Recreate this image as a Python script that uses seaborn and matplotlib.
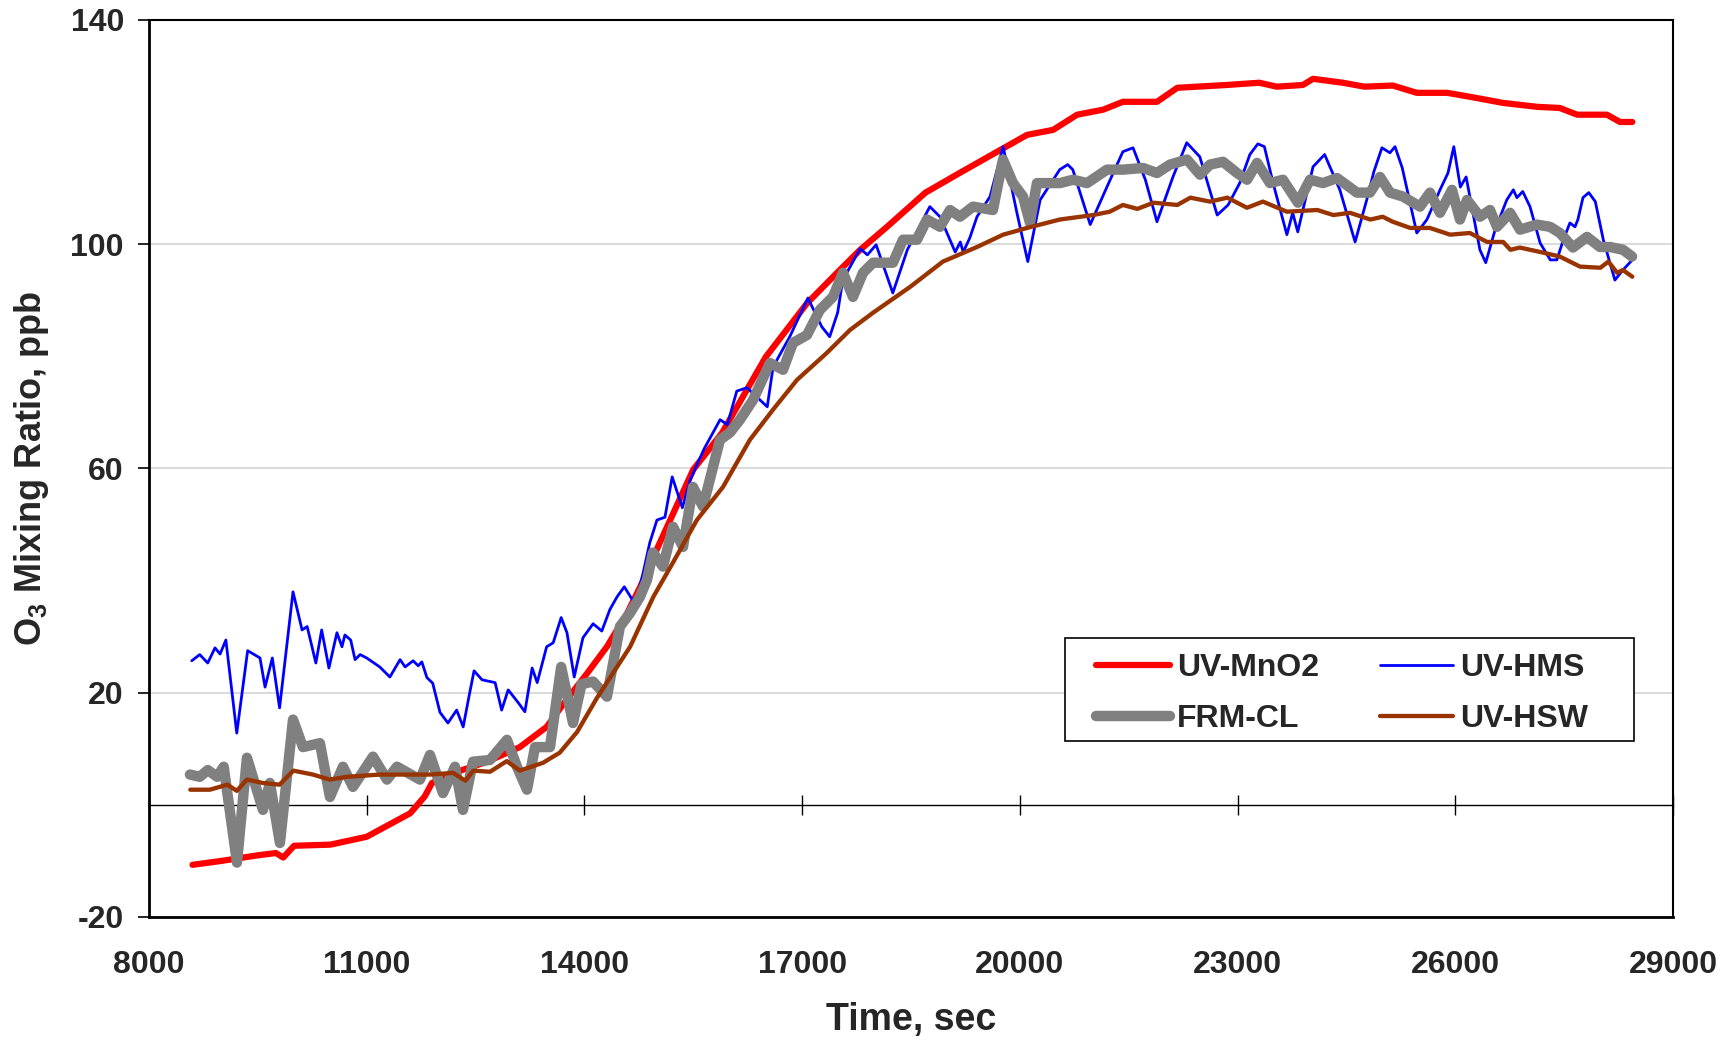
import matplotlib
matplotlib.use("Agg")
import matplotlib.pyplot as plt
from matplotlib.patches import Rectangle
import seaborn as sns
import pandas as pd

# ---------------- data ----------------
XTICKS = [8000, 11000, 14000, 17000, 20000, 23000, 26000, 29000]
YTICKS = [-20, 20, 60, 100, 140]

UV_MNO2 = [(8600, -10.7), (9000, -10.0), (9500, -9.0), (9750, -8.6), (9850, -9.4), (10000, -7.3),
           (10500, -7.1), (11000, -5.7), (11300, -3.6), (11600, -1.5), (11800, 1.5), (11900, 3.9),
           (12200, 5.7), (12660, 7.7), (13110, 10.3), (13480, 13.9), (13700, 17.8), (14040, 23.5),
           (14310, 28.2), (14590, 34.2), (14770, 38.9), (14950, 44.2), (15140, 49.6), (15500, 59.8),
           (15900, 66.4), (16500, 79.9), (17070, 89.5), (17520, 95.4), (17800, 99.0), (18170, 103.1),
           (18700, 109.2), (19170, 112.7), (19730, 116.8), (20100, 119.5), (20460, 120.4),
           (20790, 123.1), (21150, 124.0), (21420, 125.4), (21890, 125.4), (22170, 127.9),
           (22850, 128.4), (23300, 128.8), (23540, 128.1), (23900, 128.4), (24040, 129.5),
           (24450, 128.8), (24750, 128.1), (25140, 128.3), (25470, 127.0), (25890, 127.0),
           (26200, 126.3), (26660, 125.2), (27130, 124.5), (27440, 124.3), (27680, 123.1),
           (28090, 123.1), (28270, 121.8), (28440, 121.8)]

UV_HMS = [(8590, 25.7), (8700, 26.8), (8810, 25.3), (8910, 28.0), (8980, 26.9), (9060, 29.4),
          (9210, 12.8), (9360, 27.5), (9530, 26.2), (9600, 21.0), (9700, 26.2), (9800, 17.3),
          (9985, 38.0), (10110, 31.2), (10180, 31.8), (10300, 25.3), (10380, 31.2), (10480, 24.4),
          (10590, 30.7), (10660, 28.2), (10700, 30.3), (10780, 29.4), (10840, 25.9), (10910, 26.8),
          (11000, 26.2), (11180, 24.6), (11320, 22.8), (11460, 25.9), (11530, 24.6), (11640, 25.7),
          (11710, 24.8), (11760, 25.5), (11830, 22.7), (11910, 21.7), (12010, 16.5), (12120, 14.6),
          (12240, 16.9), (12330, 13.9), (12420, 20.0), (12480, 23.9), (12590, 22.3), (12770, 21.8),
          (12860, 16.9), (12950, 20.5), (13090, 18.2), (13180, 16.6), (13280, 24.4), (13350, 21.8),
          (13480, 28.2), (13570, 28.9), (13680, 33.4), (13760, 30.7), (13860, 22.8), (13980, 29.8),
          (14120, 32.3), (14240, 31.0), (14350, 34.8), (14450, 37.1), (14550, 38.9), (14660, 36.6),
          (14730, 37.1), (14810, 41.4), (14900, 46.7), (15000, 50.8), (15110, 51.3), (15210, 58.5),
          (15350, 53.0), (15460, 58.0), (15650, 63.5), (15870, 68.7), (15970, 67.8), (16100, 73.8),
          (16240, 74.4), (16520, 71.0), (16600, 78.1), (16830, 83.5), (17080, 90.4), (17270, 85.3),
          (17380, 83.5), (17490, 87.8), (17560, 93.6), (17800, 99.2), (17900, 98.1), (18020, 99.9),
          (18140, 95.4), (18250, 91.3), (18450, 99.0), (18760, 106.7), (18900, 104.9),
          (19110, 98.6), (19180, 100.4), (19220, 98.6), (19310, 101.1), (19410, 104.9),
          (19590, 108.5), (19770, 117.4), (19960, 105.6), (20110, 96.9), (20280, 107.9),
          (20550, 113.3), (20660, 114.2), (20730, 113.3), (20970, 103.5), (21200, 110.2),
          (21420, 116.5), (21560, 117.2), (21730, 111.5), (21890, 104.0), (22110, 112.0),
          (22300, 118.1), (22480, 115.6), (22720, 105.2), (22870, 107.0), (23030, 110.9),
          (23170, 116.0), (23280, 117.9), (23370, 117.4), (23490, 110.9), (23680, 101.7),
          (23760, 105.6), (23830, 102.2), (24040, 113.8), (24200, 116.0), (24410, 109.7),
          (24620, 100.4), (24780, 107.9), (24880, 113.0), (24990, 117.2), (25100, 116.3),
          (25170, 117.4), (25270, 113.6), (25470, 102.0), (25610, 104.4), (25790, 109.7),
          (25900, 112.7), (25980, 117.4), (26070, 110.2), (26150, 112.0), (26340, 99.0),
          (26420, 96.7), (26550, 102.6), (26710, 107.9), (26800, 109.7), (26850, 108.3),
          (26930, 109.4), (27030, 106.7), (27170, 100.2), (27310, 97.2), (27400, 97.2),
          (27490, 100.8), (27580, 103.8), (27650, 103.1), (27690, 104.4), (27760, 108.3),
          (27840, 109.2), (27930, 107.6), (28040, 100.8), (28200, 93.6), (28310, 95.4),
          (28440, 97.2)]

FRM_CL = [(8565, 5.4), (8700, 5.0), (8810, 6.2), (8940, 5.0), (9030, 6.8), (9213, -10.3),
          (9350, 8.4), (9571, -0.9), (9667, 3.9), (9805, -6.8), (9985, 15.2), (10122, 10.3),
          (10356, 11.0), (10494, 1.4), (10673, 6.8), (10811, 3.2), (11087, 8.6), (11280, 4.5),
          (11418, 6.8), (11734, 4.5), (11872, 8.9), (12051, 2.1), (12217, 6.8), (12327, -0.9),
          (12465, 7.7), (12699, 8.0), (12933, 11.6), (13071, 6.8), (13209, 2.7), (13319, 10.3),
          (13526, 10.3), (13680, 24.6), (13843, 14.6), (13960, 21.5), (14118, 22.0), (14311, 19.3),
          (14490, 31.8), (14628, 34.2), (14766, 37.1), (14862, 40.1), (14945, 45.0), (15083, 42.5),
          (15221, 49.6), (15359, 46.0), (15496, 56.7), (15634, 53.2), (15868, 65.1), (16006, 66.4),
          (16144, 68.7), (16323, 72.2), (16557, 78.8), (16737, 77.6), (16874, 82.4), (17067, 83.8),
          (17246, 88.3), (17425, 90.6), (17563, 94.9), (17701, 90.6), (17839, 94.9), (17977, 96.7),
          (18252, 96.7), (18390, 100.8), (18583, 100.8), (18721, 104.4), (18900, 103.1),
          (19038, 106.1), (19175, 104.9), (19355, 106.7), (19630, 106.1), (19768, 115.1),
          (19906, 110.9), (20044, 108.5), (20140, 103.8), (20236, 110.9), (20553, 110.9),
          (20733, 111.5), (20926, 110.9), (21201, 113.3), (21422, 113.3), (21697, 113.6),
          (21890, 112.7), (22069, 114.2), (22304, 115.1), (22483, 112.4), (22621, 114.2),
          (22800, 114.7), (22993, 112.7), (23131, 111.5), (23269, 114.5), (23447, 110.9),
          (23626, 111.5), (23833, 107.4), (23999, 111.5), (24178, 110.9), (24371, 111.8),
          (24646, 109.2), (24825, 109.2), (24963, 112.0), (25101, 109.2), (25280, 108.5),
          (25514, 106.7), (25652, 109.2), (25790, 105.6), (25955, 109.7), (26065, 104.4),
          (26162, 107.9), (26341, 104.9), (26479, 106.1), (26575, 103.1), (26755, 105.6),
          (26893, 102.6), (27127, 103.5), (27306, 103.1), (27443, 102.0), (27622, 99.4),
          (27815, 101.3), (27995, 99.5), (28133, 99.5), (28312, 99.0), (28436, 97.8)]

UV_HSW = [(8570, 2.7), (8840, 2.7), (9080, 3.6), (9210, 2.5), (9350, 4.5), (9570, 3.9),
          (9800, 3.6), (9990, 6.1), (10260, 5.4), (10490, 4.5), (10730, 5.0), (11180, 5.4),
          (11870, 5.4), (12190, 5.7), (12360, 4.3), (12470, 6.1), (12700, 5.9), (12930, 7.8),
          (13110, 6.1), (13430, 7.5), (13660, 9.3), (13900, 13.0), (14170, 19.0), (14630, 28.2),
          (14950, 37.1), (15220, 43.2), (15550, 50.8), (15910, 56.7), (16280, 65.1), (16600, 70.5),
          (16930, 75.8), (17340, 80.6), (17660, 84.7), (17980, 87.8), (18490, 92.4), (18940, 96.9),
          (19410, 99.5), (19770, 101.7), (20100, 102.9), (20550, 104.4), (21010, 105.2),
          (21240, 105.8), (21420, 107.0), (21620, 106.3), (21840, 107.4), (22170, 107.0),
          (22350, 108.3), (22620, 107.6), (22860, 108.3), (23130, 106.5), (23350, 107.6),
          (23680, 105.8), (24100, 106.1), (24320, 105.2), (24550, 105.6), (24830, 104.4),
          (25000, 104.9), (25140, 104.0), (25380, 102.9), (25650, 102.9), (25930, 101.7),
          (26200, 102.0), (26440, 100.4), (26660, 100.4), (26760, 99.0), (26890, 99.4),
          (27210, 98.5), (27440, 97.8), (27720, 96.0), (28000, 95.8), (28110, 96.9),
          (28230, 94.9), (28310, 95.4), (28440, 94.2)]

SERIES = [("UV-MnO2", UV_MNO2), ("UV-HMS", UV_HMS), ("FRM-CL", FRM_CL), ("UV-HSW", UV_HSW)]

# ---------------- styles ----------------
STYLE = {
    "UV-MnO2": dict(color="#FF0000", lw=4.5),
    "UV-HMS": dict(color="#0000FF", lw=2.0),
    "FRM-CL": dict(color="#808080", lw=7.5),
    "UV-HSW": dict(color="#993300", lw=3.1),
}

sns.set_theme(style="white")
plt.rcParams["font.family"] = ["Liberation Sans", "DejaVu Sans"]
plt.rcParams["font.weight"] = "bold"
plt.rcParams["mathtext.fontset"] = "custom"
plt.rcParams["mathtext.rm"] = "Liberation Sans:bold"
plt.rcParams["mathtext.it"] = "Liberation Sans:bold"
plt.rcParams["mathtext.bf"] = "Liberation Sans:bold"

fig = plt.figure(figsize=(17.34, 10.5), dpi=100)
ax = fig.add_axes([0.0859, 0.1267, 0.8789, 0.8543])

frames = []
for name, pts in SERIES:
    df = pd.DataFrame(pts, columns=["t", "v"])
    df["series"] = name
    frames.append(df)
data = pd.concat(frames, ignore_index=True)

handles = {}
for i, (name, _) in enumerate(SERIES):
    sub = data[data["series"] == name]
    st = STYLE[name]
    sns.lineplot(data=sub, x="t", y="v", ax=ax, color=st["color"], linewidth=st["lw"],
                 sort=False, estimator=None, label=name, zorder=3 + i,
                 solid_capstyle="round", solid_joinstyle="round")
    handles[name] = ax.get_lines()[-1]

ax.set_xlim(8000, 29000)
ax.set_ylim(-20, 140)
ax.set_xticks(XTICKS)
ax.set_yticks(YTICKS)
ax.set_xticklabels([str(t) for t in XTICKS])
ax.set_yticklabels([str(t) for t in YTICKS])

ax.tick_params(axis="x", bottom=True, length=0, pad=24, labelsize=23)
ax.tick_params(axis="y", left=True, length=8, width=1.2, color="black", pad=10,
               direction="out", labelsize=23)
for lab in ax.get_xticklabels() + ax.get_yticklabels():
    lab.set_fontweight("bold")

ax.yaxis.grid(True, color="#d4d4d4", linewidth=1.2)
ax.xaxis.grid(False)
ax.set_axisbelow(True)
for side, sp in ax.spines.items():
    sp.set_color("black")
    sp.set_linewidth(2.0 if side in ("left", "bottom") else 1.5)
    sp.set_visible(True)

# zero line with crossing ticks (Excel-style category axis crossing at 0)
sec = ax.secondary_xaxis(0, transform=ax.transData)
sec.set_xticks(XTICKS)
sec.tick_params(axis="x", direction="inout", length=15, width=1, color="black",
                labelbottom=False)
sec.spines["bottom"].set_linewidth(1.0)
sec.spines["bottom"].set_color("black")

ax.set_xlabel("Time, sec", fontsize=27, fontweight="bold")
ax.set_ylabel(r"O$_{3}$ Mixing Ratio, ppb", fontsize=26, fontweight="bold")
ax.xaxis.set_label_coords(0.5, -0.095)
ax.yaxis.set_label_coords(-0.0643, 0.5)

# legend (frame drawn separately so the side padding matches the reference)
order = ["UV-MnO2", "FRM-CL", "UV-HMS", "UV-HSW"]
leg = ax.legend([handles[n] for n in order], order, loc="upper left",
                bbox_to_anchor=(0.6215, 0.2944), ncol=2, fontsize=23, frameon=False,
                handlelength=2.3, handletextpad=0.23, columnspacing=1.9, borderpad=0,
                labelspacing=0.66, borderaxespad=0)
leg.set_zorder(10)
for t in leg.get_texts():
    t.set_fontweight("bold")
ax.add_patch(Rectangle((0.601, 0.1963), 0.9747 - 0.601, 0.311 - 0.1963, transform=ax.transAxes,
                       facecolor="white", edgecolor="black", linewidth=1.2, zorder=9))

fig.savefig("out.png", dpi=100, facecolor="white")
